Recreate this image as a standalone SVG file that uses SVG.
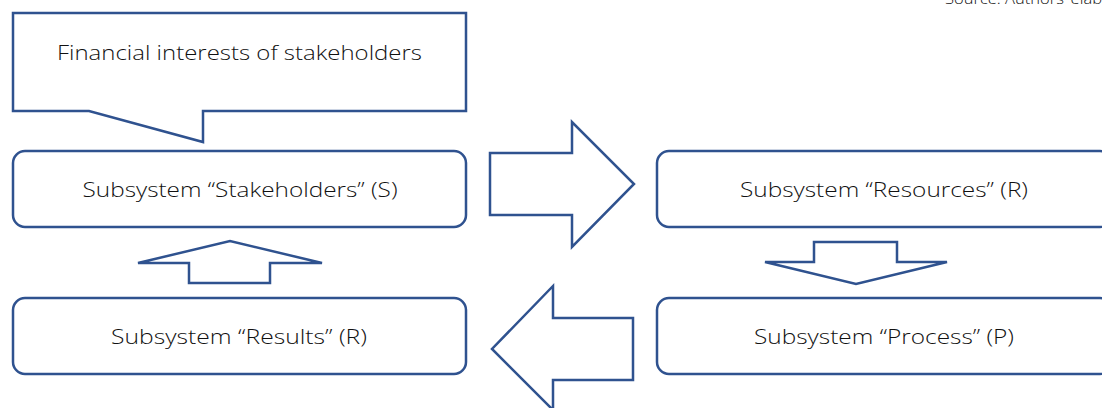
<svg xmlns="http://www.w3.org/2000/svg" width="1102" height="408" viewBox="0 0 1102 408">
<style>
.shape{fill:#ffffff;stroke:#2F528F;stroke-width:2.5;stroke-linejoin:miter}
.lbl{font-family:"Open Sans","Noto Sans",sans-serif;font-size:21px;fill:#111111;text-anchor:middle;font-weight:300}
.src{font-family:"Open Sans","Noto Sans",sans-serif;font-size:14px;fill:#111111;font-weight:300}
</style>
<rect width="1102" height="408" fill="#ffffff"/>
<text class="src" x="945" y="4" textLength="157" lengthAdjust="spacingAndGlyphs">Source: Authors’ elab</text>
<g id="callout">
<path class="shape" d="M13,13 H466 V111 H203 V142 L89,111 H13 Z"/>
<text class="lbl" x="239.5" y="60" textLength="365" lengthAdjust="spacingAndGlyphs">Financial interests of stakeholders</text>
</g>
<g id="stakeholders">
<rect class="shape" x="13" y="151" width="453" height="76" rx="12"/>
<text class="lbl" x="240" y="197" textLength="315" lengthAdjust="spacingAndGlyphs">Subsystem “Stakeholders” (S)</text>
</g>
<g id="resources">
<rect class="shape" x="657" y="151" width="455" height="76" rx="12"/>
<text class="lbl" x="884" y="197" textLength="288" lengthAdjust="spacingAndGlyphs">Subsystem “Resources” (R)</text>
</g>
<g id="results">
<rect class="shape" x="13" y="298" width="453" height="76" rx="12"/>
<text class="lbl" x="239" y="344" textLength="256" lengthAdjust="spacingAndGlyphs">Subsystem “Results” (R)</text>
</g>
<g id="process">
<rect class="shape" x="657" y="298" width="455" height="76" rx="12"/>
<text class="lbl" x="884" y="344" textLength="260" lengthAdjust="spacingAndGlyphs">Subsystem “Process” (P)</text>
</g>
<g id="connectors">
<path class="shape" d="M490,153 H572 V122 L634,184 L572,247 V215 H490 Z"/>
<path class="shape" d="M814,242 H897 V262 H947 L856,284 L765,262 H814 Z"/>
<path class="shape" d="M633,318 H553 V286 L492,349 L553,410 V380 H633 Z"/>
<path class="shape" d="M189,283 H270 V263 H322 L230,241 L138,263 H189 Z"/>
</g>
</svg>
